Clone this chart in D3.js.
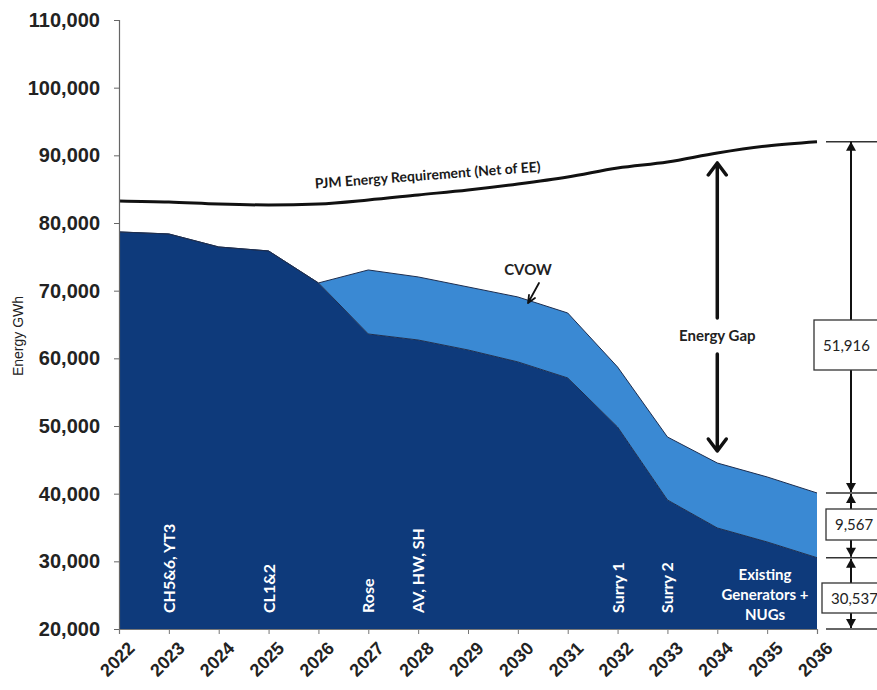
<!DOCTYPE html>
<html>
<head>
<meta charset="utf-8">
<script src="https://cdn.jsdelivr.net/npm/d3@7"></script>
<style>
  html, body { margin: 0; padding: 0; background: #ffffff; }
  svg { display: block; }
</style>
</head>
<body>
<svg id="chart" width="877" height="690"></svg>
<script>
// Annual energy (GWh), 2022-2036
const years = [2022, 2023, 2024, 2025, 2026, 2027, 2028, 2029, 2030, 2031, 2032, 2033, 2034, 2035, 2036];
const existingGen = [78680, 78380, 76460, 75870, 71140, 63600, 62710, 61240, 59470, 57100, 49850, 39070, 34930, 32860, 30537];
const cvow = [0, 0, 0, 0, 0, 9460, 9320, 9310, 9600, 9600, 8870, 9310, 9600, 9610, 9567];
const pjmRequirement = [83260, 83110, 82810, 82660, 82810, 83400, 84150, 84880, 85770, 86810, 88140, 89030, 90350, 91390, 92020];
const yTicks = [20000, 30000, 40000, 50000, 60000, 70000, 80000, 90000, 100000, 110000];
const retirements = [
  { year: 2023, label: "CH5&6, YT3" },
  { year: 2025, label: "CL1&2" },
  { year: 2027, label: "Rose" },
  { year: 2028, label: "AV, HW, SH" },
  { year: 2032, label: "Surry 1" },
  { year: 2033, label: "Surry 2" }
];

const svg = d3.select("#chart");
const x = d3.scaleLinear().domain([2022, 2036]).range([119, 817]);
const y = d3.scaleLinear().domain([20000, 110000]).range([629, 20]);
const yMin = y.domain()[0];

const DARK = "#0e3a7b";
const LIGHT = "#3a89d3";
const CAL = "Lato, 'Open Sans', sans-serif";

// stacked areas (existing generation + CVOW)
const rows = years.map((yr, i) => ({ year: yr, existing: existingGen[i], cvow: cvow[i] }));
const layers = d3.stack().keys(["existing", "cvow"])(rows);
const fills = [DARK, LIGHT];

const area = d3.area()
  .x(d => x(d.data.year))
  .y0(d => y(Math.max(d[0], yMin)))
  .y1(d => y(d[1]));
const topLine = d3.line().x(d => x(d.data.year)).y(d => y(d[1]));

svg.append("g").selectAll("path.area").data(layers).join("path")
  .attr("class", "area")
  .attr("d", area)
  .attr("fill", (d, i) => fills[i]);

svg.append("g").selectAll("path.edge").data(layers).join("path")
  .attr("class", "edge")
  .attr("d", topLine)
  .attr("fill", "none")
  .attr("stroke", "#1c2d4f")
  .attr("stroke-width", 1);

// requirement line
const reqLine = d3.line()
  .x((d, i) => x(years[i]))
  .y(d => y(d))
  .curve(d3.curveMonotoneX);
svg.append("path")
  .attr("d", reqLine(pjmRequirement))
  .attr("fill", "none")
  .attr("stroke", "#111")
  .attr("stroke-width", 3);

svg.append("text")
  .attr("transform", `translate(428,180) rotate(-4.3)`)
  .attr("text-anchor", "middle")
  .attr("font-family", CAL)
  .attr("font-weight", "bold")
  .attr("font-size", 14)
  .attr("fill", "#1a1a1a")
  .text("PJM Energy Requirement (Net of EE)");

// axes
const yAxis = d3.axisLeft(y).tickValues(yTicks).tickSize(5).tickPadding(14)
  .tickFormat(d3.format(","));
const gy = svg.append("g").attr("transform", "translate(119,0)").call(yAxis);
gy.select(".domain").attr("stroke", "#666").attr("stroke-width", 1.2);
gy.selectAll(".tick line").attr("stroke", "#666");
gy.selectAll(".tick text")
  .attr("font-family", "Arial, 'Liberation Sans', sans-serif")
  .attr("font-weight", "bold")
  .attr("font-size", 20)
  .attr("fill", "#222");

const xAxis = d3.axisBottom(x).tickValues(years).tickSize(5).tickPadding(4)
  .tickFormat(d3.format("d"));
const gx = svg.append("g").attr("transform", "translate(0,629)").call(xAxis);
gx.select(".domain").attr("stroke", "#777").attr("stroke-width", 1.2);
gx.selectAll(".tick line").attr("stroke", "#777");
gx.selectAll(".tick text")
  .attr("font-family", "Arial, 'Liberation Sans', sans-serif")
  .attr("font-weight", "bold")
  .attr("font-size", 18)
  .attr("fill", "#222")
  .attr("text-anchor", "end")
  .attr("dy", null)
  .attr("transform", "translate(10,14) rotate(-45)");

svg.append("text")
  .attr("transform", "translate(23,336) rotate(-90)")
  .attr("text-anchor", "middle")
  .attr("font-family", "Arial, 'Liberation Sans', sans-serif")
  .attr("font-size", 14)
  .attr("fill", "#222")
  .text("Energy GWh");

// retirement labels inside the existing-generation area
svg.append("g").selectAll("text").data(retirements).join("text")
  .attr("transform", d => `translate(${x(d.year) + 6},613) rotate(-90)`)
  .attr("text-anchor", "start")
  .attr("font-family", CAL)
  .attr("font-weight", "bold")
  .attr("font-size", 16)
  .attr("fill", "#ffffff")
  .text(d => d.label);

const eg = svg.append("text")
  .attr("text-anchor", "middle")
  .attr("font-family", CAL)
  .attr("font-weight", "bold")
  .attr("font-size", 15)
  .attr("fill", "#ffffff");
["Existing", "Generators +", "NUGs"].forEach((t, i) => {
  eg.append("tspan").attr("x", 765).attr("y", 580 + i * 20).text(t);
});

// CVOW callout
svg.append("text")
  .attr("x", 528).attr("y", 275)
  .attr("text-anchor", "middle")
  .attr("font-family", CAL)
  .attr("font-weight", "bold")
  .attr("font-size", 15)
  .attr("fill", "#222")
  .text("CVOW");
svg.append("path")
  .attr("d", "M539,283 L528,303 M528,303 L529,295 M528,303 L535,298")
  .attr("fill", "none").attr("stroke", "#111").attr("stroke-width", 1.8)
  .attr("stroke-linecap", "round");

// Energy Gap double arrow (2034)
const gx34 = x(2034);
const iLast = years.length - 1;
const i34 = years.indexOf(2034);
const total34 = existingGen[i34] + cvow[i34];
const req34 = pjmRequirement[i34];
const ga = svg.append("g").attr("stroke", "#111").attr("stroke-width", 3.5).attr("fill", "none")
  .attr("stroke-linecap", "round").attr("stroke-linejoin", "round");
const gapTop = y(req34) + 10, gapBot = y(total34) - 12;
ga.append("path").attr("d", `M${gx34},318 L${gx34},${gapTop} M${gx34 - 9},${gapTop + 12} L${gx34},${gapTop} L${gx34 + 9},${gapTop + 12}`);
ga.append("path").attr("d", `M${gx34},354 L${gx34},${gapBot} M${gx34 - 9},${gapBot - 12} L${gx34},${gapBot} L${gx34 + 9},${gapBot - 12}`);
svg.append("text")
  .attr("x", gx34).attr("y", 341)
  .attr("text-anchor", "middle")
  .attr("font-family", CAL)
  .attr("font-weight", "bold")
  .attr("font-size", 15)
  .attr("fill", "#222")
  .text("Energy Gap");

// 2036 dimension annotations on the right
const reqEnd = pjmRequirement[iLast];
const totalEnd = existingGen[iLast] + cvow[iLast];
const existEnd = existingGen[iLast];
const gapEnd = reqEnd - totalEnd;
const fmt = d3.format(",");
const dx = 851;
const dim = svg.append("g");
[reqEnd, totalEnd, existEnd, yMin].forEach(v => {
  dim.append("line").attr("x1", 826).attr("x2", 877)
    .attr("y1", y(v)).attr("y2", y(v))
    .attr("stroke", "#333").attr("stroke-width", 1.5);
});

function arrow(x0, yFrom, yTo) {
  dim.append("line").attr("x1", x0).attr("x2", x0).attr("y1", yFrom).attr("y2", yTo)
    .attr("stroke", "#111").attr("stroke-width", 2);
  const dir = yTo < yFrom ? 1 : -1;
  dim.append("path")
    .attr("d", `M${x0},${yTo} L${x0 - 5},${yTo + dir * 9} L${x0 + 5},${yTo + dir * 9} Z`)
    .attr("fill", "#111");
}
function box(x0, y0, w, h, label) {
  dim.append("rect").attr("x", x0).attr("y", y0).attr("width", w).attr("height", h)
    .attr("fill", "#fff").attr("stroke", "#333").attr("stroke-width", 1.3);
  dim.append("text").attr("x", x0 + 9).attr("y", y0 + h / 2 + 5.5)
    .attr("font-family", CAL).attr("font-size", 15).attr("fill", "#222")
    .text(label);
}

arrow(dx, 320, y(reqEnd));
arrow(dx, 370, y(totalEnd) - 1);
box(814, 320, 70, 50, fmt(gapEnd));

arrow(dx, 509, y(totalEnd) + 1);
arrow(dx, 540, y(existEnd) - 1);
box(826, 509, 60, 31, fmt(cvow[iLast]));

arrow(dx, 583, y(existEnd) + 1);
arrow(dx, 613, y(yMin) - 1);
box(822, 583, 64, 30, fmt(existEnd));
</script>
</body>
</html>
